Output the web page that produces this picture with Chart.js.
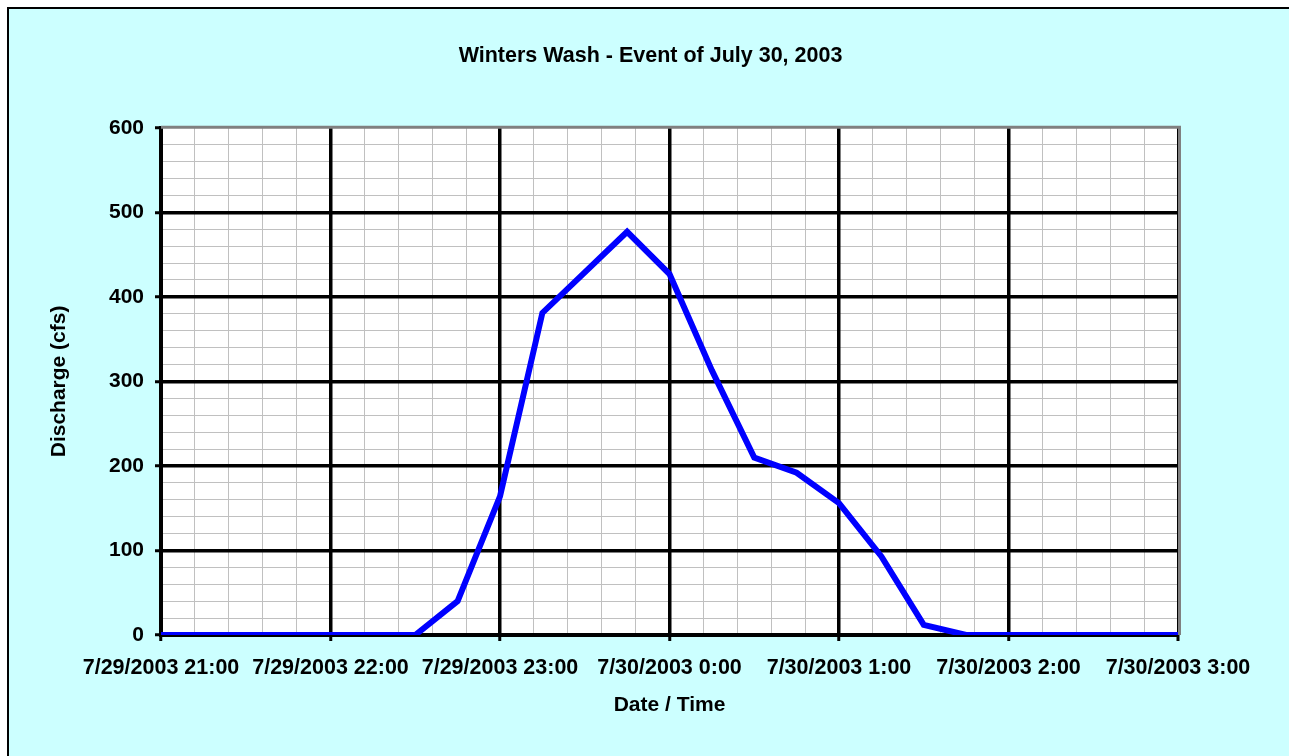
<!DOCTYPE html>
<html>
<head>
<meta charset="utf-8">
<script src="https://cdn.jsdelivr.net/npm/chart.js@4.4.1/dist/chart.umd.min.js"></script>
<style>
  html, body { margin: 0; padding: 0; background: #ffffff; overflow: hidden; width: 1289px; height: 756px; }
  #frame { position: absolute; left: 7px; top: 7px; width: 1320px; height: 800px; background: #CCFFFF; border-left: 2px solid #000; border-top: 2px solid #000; }
  #wrap { position: absolute; left: 0; top: 0; width: 1289px; height: 756px; }
</style>
</head>
<body>
<div id="frame"></div>
<div id="wrap"><canvas id="c" width="1289" height="756"></canvas></div>
<script>
// ---- data ----
const chartTitle = 'Winters Wash - Event of July 30, 2003';
const xTitle = 'Date / Time';
const yTitle = 'Discharge (cfs)';
const hourLabels = ['7/29/2003 21:00', '7/29/2003 22:00', '7/29/2003 23:00', '7/30/2003 0:00', '7/30/2003 1:00', '7/30/2003 2:00', '7/30/2003 3:00'];
const times = ['21:00','21:15','21:30','21:45','22:00','22:15','22:30','22:45','23:00','23:15','23:30','23:45',
               '0:00','0:15','0:30','0:45','1:00','1:15','1:30','1:45','2:00','2:15','2:30','2:45','3:00'];
const discharge = [0,0,0,0,0,0,0,40,164,381,429,477,
                   427,313,210,192,156,93,12,0,0,0,0,0,0];

// minutes after 7/29/2003 21:00
function toMinutes(t) {
  const [h, m] = t.split(':').map(Number);
  const hh = h >= 21 ? h - 21 : h + 3;
  return hh * 60 + m;
}
const points = times.map((t, i) => ({ x: toMinutes(t), y: discharge[i] }));

const FONT = "'Liberation Sans', Arial, sans-serif";

const plotBg = {
  id: 'plotBg',
  beforeDraw(chart) {
    const { ctx, chartArea: a } = chart;
    ctx.save();
    ctx.fillStyle = '#ffffff';
    ctx.fillRect(a.left, a.top, a.right - a.left, a.bottom - a.top);
    ctx.restore();
  },
  afterDraw(chart) {
    const { ctx, chartArea: a } = chart;
    ctx.save();
    ctx.strokeStyle = '#808080';
    ctx.lineWidth = 3;
    ctx.beginPath();
    ctx.moveTo(a.left, a.top - 0.5);
    ctx.lineTo(a.right + 3, a.top - 0.5);
    ctx.moveTo(a.right + 1.5, a.top - 0.5);
    ctx.lineTo(a.right + 1.5, a.bottom);
    ctx.stroke();
    ctx.restore();
  }
};

const hidden = 'rgba(0,0,0,0)';

new Chart(document.getElementById('c'), {
  type: 'line',
  data: {
    datasets: [{
      data: points,
      borderColor: '#0000FF',
      borderWidth: 6,
      pointRadius: 0,
      tension: 0,
      fill: false
    }]
  },
  options: {
    responsive: false,
    devicePixelRatio: 1,
    animation: false,
    layout: { padding: { left: 12, right: 0, top: 0, bottom: 0 } },
    plugins: {
      legend: { display: false },
      tooltip: { enabled: false },
      title: {
        display: true,
        text: chartTitle,
        color: '#000',
        font: { family: FONT, size: 21.5, weight: 'bold', lineHeight: 1.2 },
        padding: { top: 43, bottom: 59 }
      }
    },
    scales: {
      xMinor: {
        type: 'linear',
        position: 'bottom',
        min: 0, max: 360,
        z: -2,
        afterFit(s) { s.height = 0; },
        ticks: { stepSize: 12, autoSkip: false, display: false },
        grid: { color: '#C0C0C0', lineWidth: 1, drawTicks: false },
        border: { display: false }
      },
      yMinor: {
        type: 'linear',
        position: 'left',
        min: 0, max: 600,
        z: -2,
        afterFit(s) { s.width = 0; },
        ticks: { stepSize: 20, autoSkip: false, display: false },
        grid: { color: '#C0C0C0', lineWidth: 1, drawTicks: false },
        border: { display: false }
      },
      x: {
        type: 'linear',
        position: 'bottom',
        min: 0,
        max: 360,
        z: -1,
        afterFit(s) { s.height = 121; },
        ticks: {
          stepSize: 60,
          autoSkip: false,
          maxRotation: 0,
          color: '#000',
          padding: 14,
          font: { family: FONT, size: 21.5, weight: 'bold' },
          callback: (v) => hourLabels[Math.round(v / 60)]
        },
        grid: {
          color: '#000000',
          lineWidth: (c) => (c.tick && c.tick.value === 360 ? 2 : 3.5),
          tickColor: '#000000',
          tickWidth: 3,
          tickLength: 6
        },
        border: { display: true, color: '#000', width: 4 },
        title: {
          display: true,
          text: xTitle,
          color: '#000',
          font: { family: FONT, size: 21, weight: 'bold', lineHeight: 1.2 },
          padding: { top: 0, bottom: 38 }
        }
      },
      y: {
        type: 'linear',
        position: 'left',
        min: 0,
        max: 600,
        z: -1,
        afterFit(s) { s.width = 149; },
        ticks: {
          stepSize: 100,
          autoSkip: false,
          color: '#000',
          padding: 11,
          font: { family: FONT, size: 21, weight: 'bold' }
        },
        grid: {
          color: (c) => (c.tick && c.tick.value === 600 ? hidden : '#000000'),
          lineWidth: 3.5,
          tickColor: '#000000',
          tickWidth: 3,
          tickLength: 6
        },
        border: { display: true, color: '#000', width: 4 },
        title: {
          display: true,
          text: yTitle,
          color: '#000',
          font: { family: FONT, size: 21, weight: 'bold', lineHeight: 1.2 },
          padding: { top: 35, bottom: 0 }
        }
      },
      yRight: {
        type: 'linear',
        position: 'right',
        display: true,
        afterFit(s) { s.width = 111; },
        ticks: { display: false },
        grid: { display: false, drawTicks: false },
        border: { display: false }
      }
    }
  },
  plugins: [plotBg]
});
</script>
</body>
</html>
